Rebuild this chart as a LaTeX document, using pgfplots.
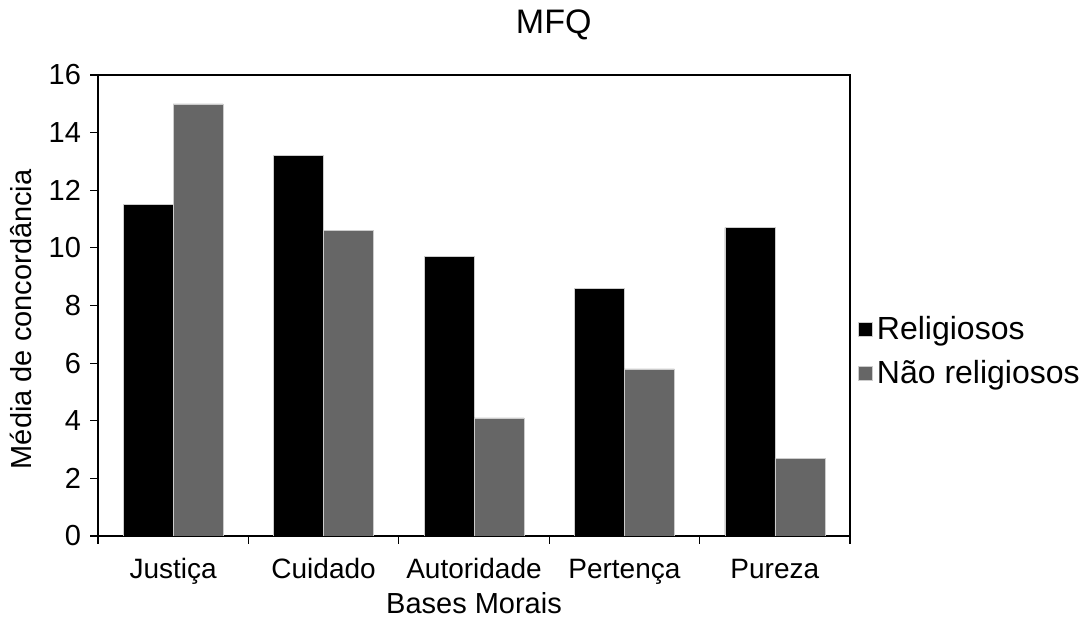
\documentclass[border=0pt]{standalone}
\usepackage{pgfplots}
\pgfplotsset{compat=1.18}
\usepackage{fontspec}
\setmainfont{Liberation Sans}
\definecolor{nrgray}{HTML}{666666}
\begin{document}
\begin{tikzpicture}
\useasboundingbox (0,0) rectangle (546pt,310pt);
\begin{axis}[
  at={(49pt,42pt)}, anchor=south west,
  scale only axis, width=376pt, height=230.5pt,
  ybar=0pt, bar width=25pt,
  xmin=-0.5, xmax=4.5, ymin=0, ymax=16,
  xtick={0,1,2,3,4},
  xticklabels={Justiça,Cuidado,Autoridade,Pertença,Pureza},
  major x tick style={draw=none},
  minor xtick={-0.5,0.5,1.5,2.5,3.5,4.5},
  minor tick length=4pt,
  ytick={0,2,...,16},
  major tick length=4pt,
  tick align=outside,
  xtick pos=bottom, ytick pos=left,
  tick style={black, line width=0.6pt},
  axis line style={black, line width=0.6pt},
  /pgf/number format/assume math mode=true,
  yticklabel style={font=\fontsize{14.5}{16}\selectfont, xshift=-1pt},
  xticklabel style={font=\fontsize{14}{16}\selectfont, text height=10.5pt, text depth=3pt, anchor=north, yshift=-3pt},
  xlabel={Bases Morais},
  ylabel={Média de concordância},
  label style={font=\fontsize{14.5}{16}\selectfont},
  xlabel style={at={(axis description cs:0.5,-0.146)}, anchor=center},
  ylabel style={at={(axis description cs:-0.1024,0.47)}, anchor=center},
  title={MFQ},
  title style={font=\fontsize{17}{20}\selectfont, at={(axis description cs:0.606,1.0824)}, anchor=center},
  legend style={at={(axis description cs:1.0106,0.401)}, anchor=west, draw=none, fill=none,
    font=\fontsize{16}{18}\selectfont, row sep=5pt, inner sep=0pt,
    /tikz/every even column/.append style={column sep=1pt}},
  legend image code/.code={\fill[#1] (0pt,-3.5pt) rectangle (7pt,3.5pt);},
  legend cell align=left,
]
\addplot[fill=black, draw=gray!40, line width=0.3pt] coordinates {(0,11.5) (1,13.2) (2,9.7) (3,8.6) (4,10.7)};
\addplot[fill=nrgray, draw=gray!40, line width=0.3pt] coordinates {(0,15.0) (1,10.6) (2,4.1) (3,5.8) (4,2.7)};
\legend{Religiosos, Não religiosos}
\end{axis}
\end{tikzpicture}
\end{document}
